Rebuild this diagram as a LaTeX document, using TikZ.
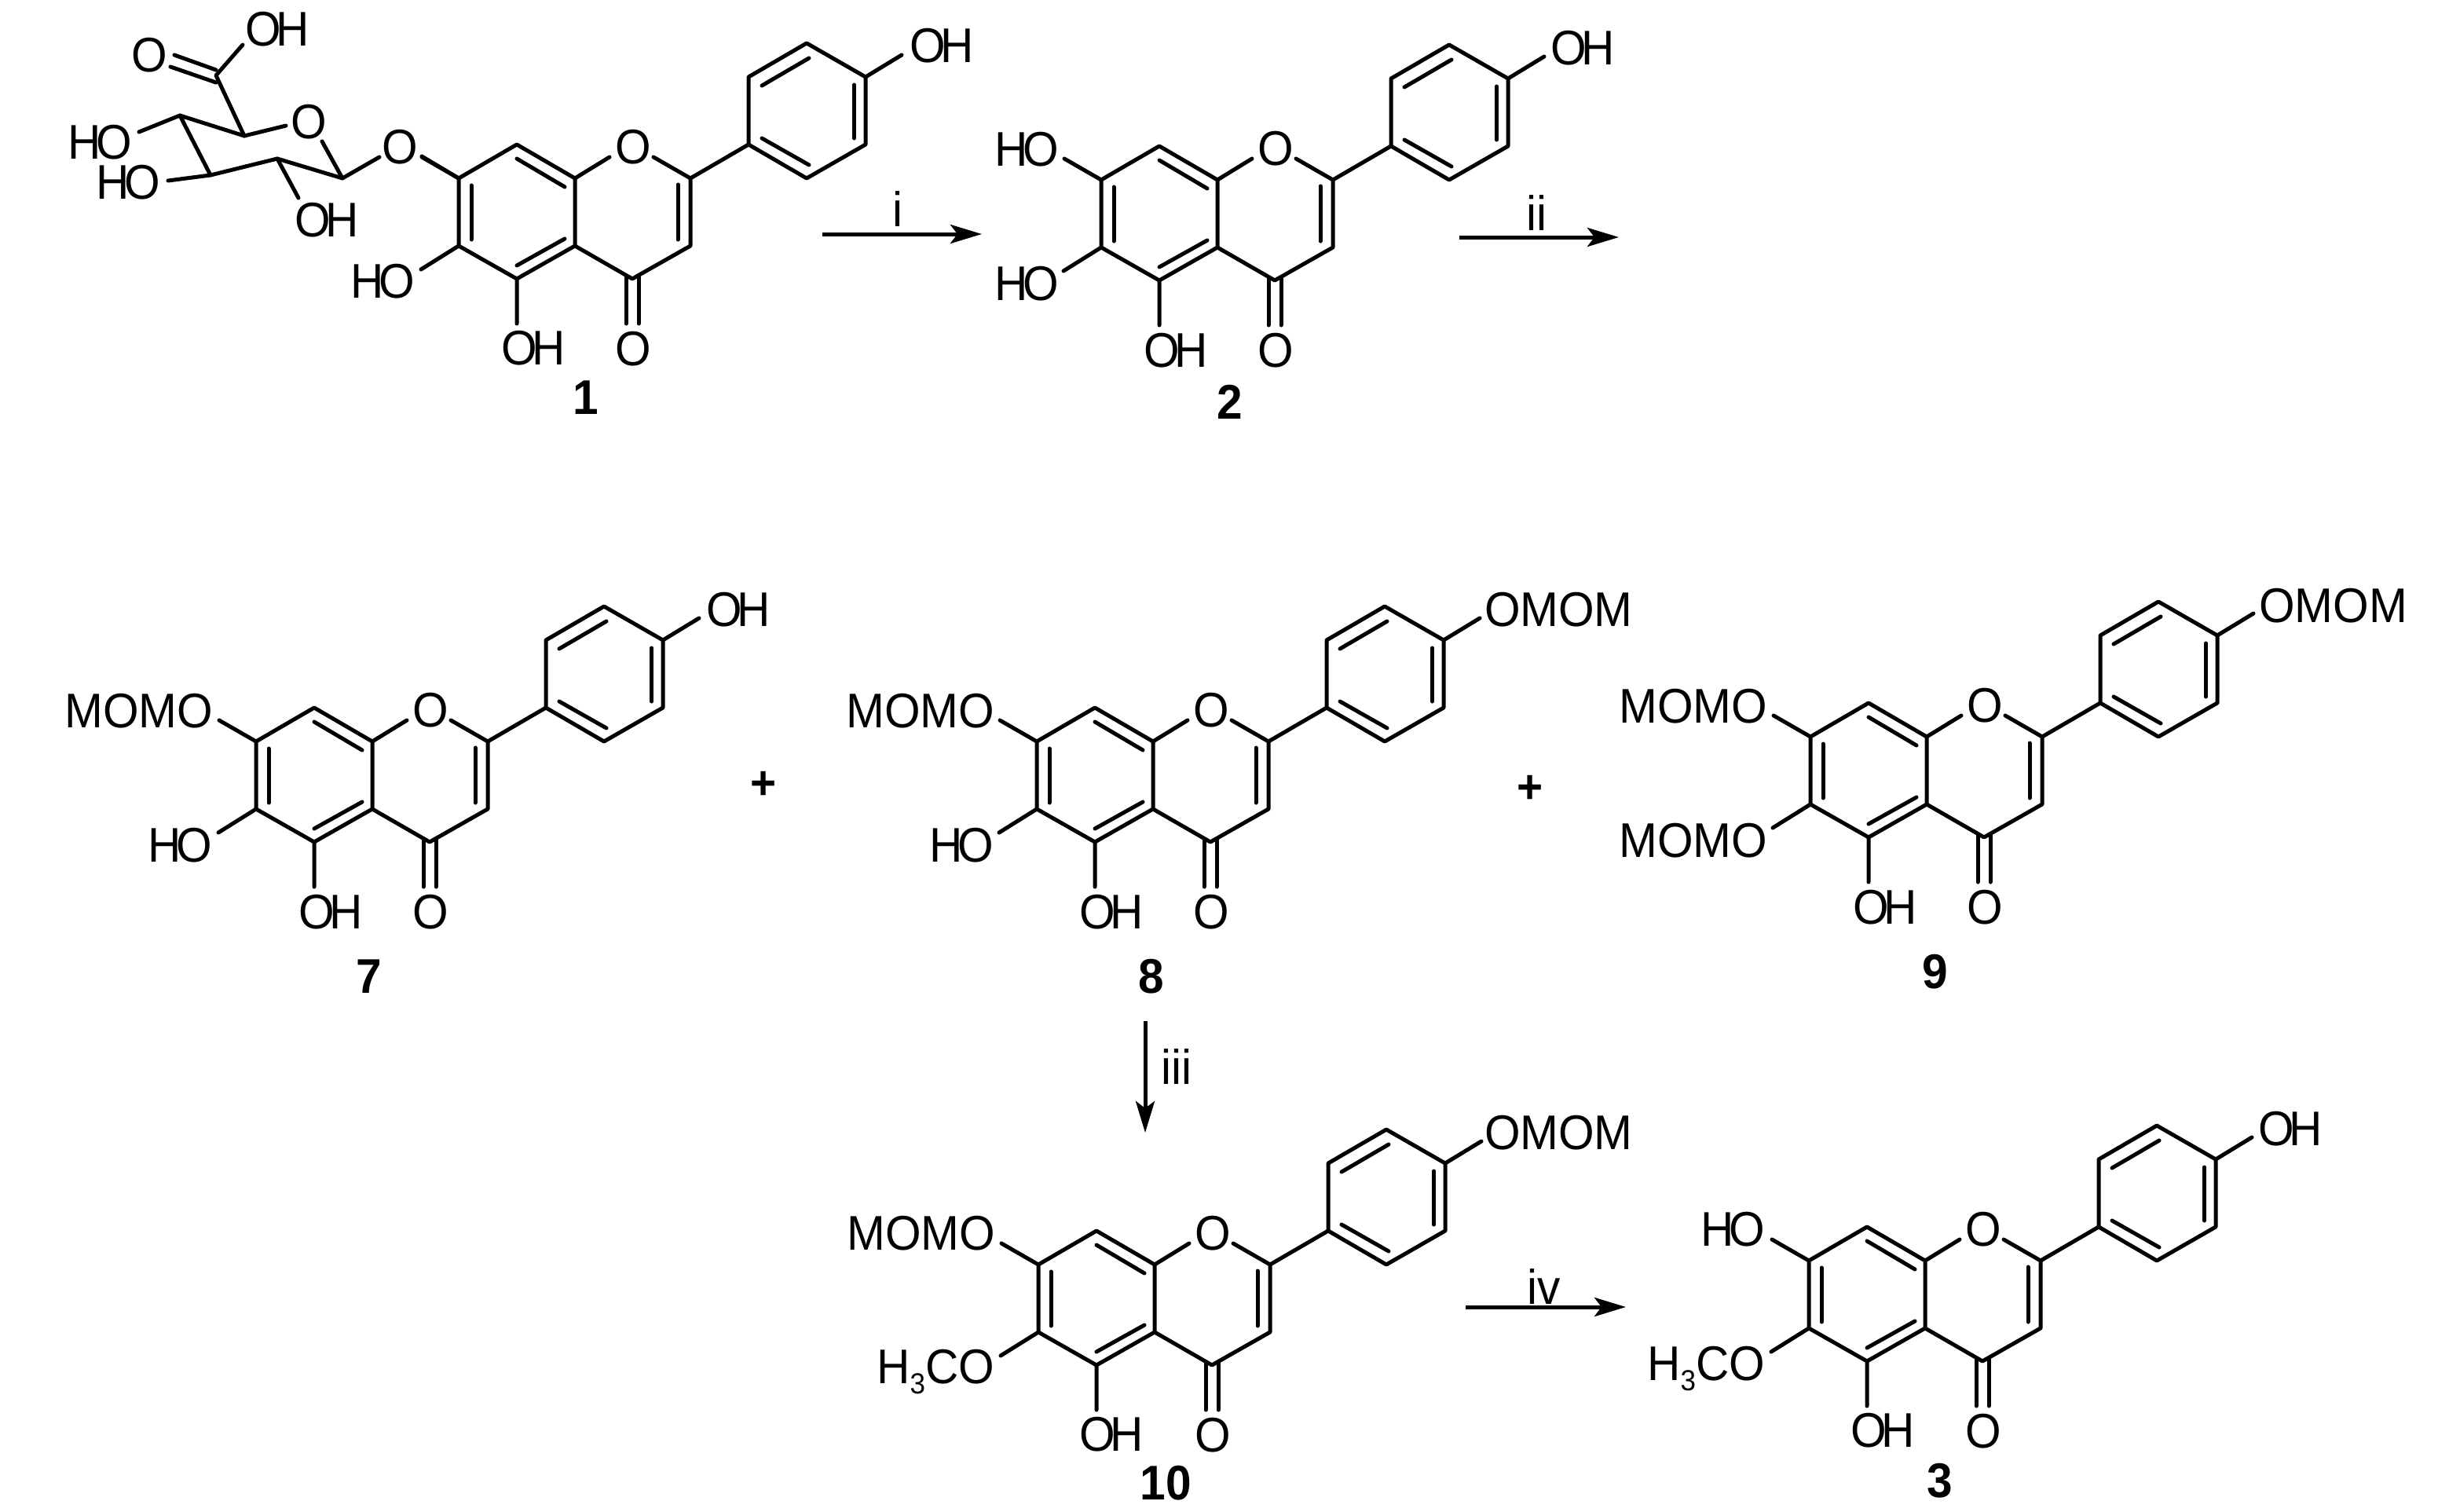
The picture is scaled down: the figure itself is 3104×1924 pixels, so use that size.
\documentclass[tikz,border=0pt]{standalone}
\usepackage{fontspec}
\setmainfont[FakeStretch=0.945]{Liberation Sans}
\usetikzlibrary{arrows.meta}
\newcommand{\atomfont}{\fontsize{62}{64}\selectfont}
\newcommand{\tOH}{O\kern-6pt H}
\newcommand{\tHO}{H\kern-6pt O}
\newcommand{\tMe}{H\raisebox{-13pt}{\fontsize{37}{38}\selectfont 3}CO}
\tikzset{
  bond/.style={line width=5pt,line cap=round,line join=round,black},
  rxn/.style={line width=5pt,black,-{Stealth[length=40pt,width=24pt,inset=9pt]}},
  lab/.style={inner sep=0pt,outer sep=0pt,font=\atomfont,yshift=-22pt,text=black},
  labc/.style={lab,anchor=base},
  labl/.style={lab,anchor=base west},
  labr/.style={lab,anchor=base east},
  cmpd/.style={lab,anchor=base,font=\atomfont\bfseries},
  plus/.style={inner sep=0pt,font=\fontsize{60}{62}\selectfont\bfseries},
}
% flavone skeleton: #1 prefix, (#2,#3) position of C7
\newcommand{\flavone}[3]{%
\begin{scope}[shift={(#2,#3)}]
  \coordinate (#1c7) at (0,0);
  \coordinate (#1c8) at (74,-43);
  \coordinate (#1c8a) at (148,0);
  \coordinate (#1c2) at (295,0);
  \coordinate (#1c3) at (295,86);
  \coordinate (#1c4) at (221,128);
  \coordinate (#1c4a) at (148,86);
  \coordinate (#1c5) at (74,128);
  \coordinate (#1c6) at (0,86);
  \coordinate (#1p1) at (369,-43);
  \coordinate (#1p2) at (369,-129);
  \coordinate (#1p3) at (443,-172);
  \coordinate (#1p4) at (518,-129);
  \coordinate (#1p5) at (518,-43);
  \coordinate (#1p6) at (443,0);
  \coordinate (#1ea) at (192,-27);
  \coordinate (#1eb) at (248,-27);
  \coordinate (#1e7) at (-47,-27);
  \coordinate (#1e6) at (-48,116);
  \coordinate (#1e5) at (74,185);
  \coordinate (#1e4) at (564,-157);
  \node[labc] (#1O1) at (222,-41) {O};
  \node[labc] (#1O4) at (222,216) {O};
  \draw[bond] (#1c7)--(#1c8)--(#1c8a)--(#1c4a)--(#1c5)--(#1c6)--cycle;
  \draw[bond] (#1c8a)--(#1ea) (#1eb)--(#1c2)--(#1c3)--(#1c4)--(#1c4a);
  \draw[bond] (#1p1)--(#1p2)--(#1p3)--(#1p4)--(#1p5)--(#1p6)--cycle;
  \draw[bond] (#1c2)--(#1p1);
  \draw[bond] (#1c7)--(#1e7) (#1c6)--(#1e6) (#1c5)--(#1e5) (#1p4)--(#1e4);
  % inner lines of the double bonds
  \draw[bond] (16,9)--(16,78);
  \draw[bond] (74,-25)--(135,11);
  \draw[bond] (74,111)--(135,77);
  \draw[bond] (279,8)--(279,78);
  \draw[bond] (386,-51)--(446,-17);
  \draw[bond] (386,-118)--(446,-153);
  \draw[bond] (503.5,-119)--(503.5,-51);
  \draw[bond] (213,124)--(213,185) (229,124)--(229,185);
\end{scope}}
\begin{document}
\begin{tikzpicture}[x=1pt,y=-1pt]
\useasboundingbox (0,0) rectangle (3104,1924);
\fill[white] (0,0) rectangle (3104,1924);

% compound 1
\flavone{a}{584}{227}
\node[labc] (aO7) at (509,186) {O};
\node[labc] (aHO6) at (487,357) {\tHO};
\node[labc] (aOH5) at (679,442) {\tOH};
\node[labc] (aOH4) at (1199,58) {\tOH};
\node[cmpd] (aname) at (746,505) {1};
\coordinate (s1) at (436,227);
\coordinate (s2) at (353,202);
\coordinate (s3) at (268,223);
\coordinate (s4) at (229,147);
\coordinate (s5) at (311,173);
\coordinate (s6) at (275,96);
\coordinate (so1) at (364,160);
\coordinate (so2) at (410,180);
\coordinate (sg1) at (483,200);
\coordinate (sg2) at (537,199);
\coordinate (sh4) at (177,168);
\coordinate (sh3) at (214,230);
\coordinate (sh2) at (380,252);
\coordinate (sc1) at (309,57);
\coordinate (sd1) at (222,70);
\coordinate (sd2) at (217,85);
\coordinate (sd3) at (275,89);
\coordinate (sd4) at (275,105);
\node[labc] (sO) at (393,154) {O};
\node[labc] (sOk) at (190,70) {O};
\node[labc] (sOH) at (353,37) {\tOH};
\node[labc] (sHO4) at (127,180) {\tHO};
\node[labc] (sHO3) at (163,231) {\tHO};
\node[labc] (sOH2) at (416,279) {\tOH};
\draw[bond] (so1)--(s5)--(s4)--(s3)--(s2)--(s1)--(so2);
\draw[bond] (s5)--(s6)--(sc1);
\draw[bond] (sd3)--(sd1) (sd4)--(sd2);
\draw[bond] (s4)--(sh4) (s3)--(sh3) (s2)--(sh2);
\draw[bond] (s1)--(sg1) (sg2)--(ac7);

% compound 2
\flavone{b}{1402}{229}
\node[labc] (bHO7) at (1307,189) {\tHO};
\node[labc] (bHO6) at (1307,360) {\tHO};
\node[labc] (bOH5) at (1497,445) {\tOH};
\node[labc] (bOH4) at (2015,61) {\tOH};
\node[cmpd] (bname) at (1566,511) {2};

% compound 7
\flavone{c}{326}{944}
\node[labr] (cMO7) at (271,904) {MOMO};
\node[labc] (cHO6) at (229,1075) {\tHO};
\node[labc] (cOH5) at (421,1160) {\tOH};
\node[labc] (cOH4) at (940,775) {\tOH};
\node[cmpd] (cname) at (470,1242) {7};

% compound 8
\flavone{d}{1320}{944}
\node[labr] (dMO7) at (1266,904) {MOMO};
\node[labc] (dHO6) at (1224,1075) {\tHO};
\node[labc] (dOH5) at (1415,1160) {\tOH};
\node[labl] (dOM4) at (1890,775) {OMOM};
\node[cmpd] (dname) at (1466,1242) {8};

% compound 9
\flavone{e}{2305}{938}
\node[labr] (eMO7) at (2250,898) {MOMO};
\node[labr] (eMO6) at (2250,1069) {MOMO};
\node[labc] (eOH5) at (2400,1154) {\tOH};
\node[labl] (eOM4) at (2876,770) {OMOM};
\node[cmpd] (ename) at (2464,1236) {9};

% compound 10
\flavone{f}{1322}{1610}
\node[labr] (fMO7) at (1267,1569) {MOMO};
\node[labr] (fMe6) at (1266,1739) {\tMe};
\node[labc] (fOH5) at (1415,1825) {\tOH};
\node[labl] (fOM4) at (1890,1441) {OMOM};
\node[cmpd] (fname) at (1484,1887) {10};

% compound 3
\flavone{g}{2303}{1605}
\node[labc] (gHO7) at (2206,1564) {\tHO};
\node[labr] (gMe6) at (2247,1735) {\tMe};
\node[labc] (gOH5) at (2397,1820) {\tOH};
\node[labc] (gOH4) at (2916,1436) {\tOH};
\node[cmpd] (gname) at (2470,1884) {3};

% plus signs
\node[plus] (pl1) at (972,1000) {+};
\node[plus] (pl2) at (1948,1005) {+};

% reaction arrows
\coordinate (r1a) at (1047,298); \coordinate (r1b) at (1250,298);
\coordinate (r2a) at (1858,302); \coordinate (r2b) at (2061,302);
\coordinate (r3a) at (1458,1300); \coordinate (r3b) at (1458,1442);
\coordinate (r4a) at (1866,1664); \coordinate (r4b) at (2070,1664);
\draw[rxn] (r1a)--(r1b);
\draw[rxn] (r2a)--(r2b);
\draw[rxn] (r3a)--(r3b);
\draw[rxn] (r4a)--(r4b);
\node[labc] (ri) at (1143,266) {i};
\node[labc] (rii) at (1956,271) {ii};
\node[labc] (riii) at (1498,1358) {iii};
\node[labc] (riv) at (1966,1638) {iv};
\end{tikzpicture}
\end{document}
